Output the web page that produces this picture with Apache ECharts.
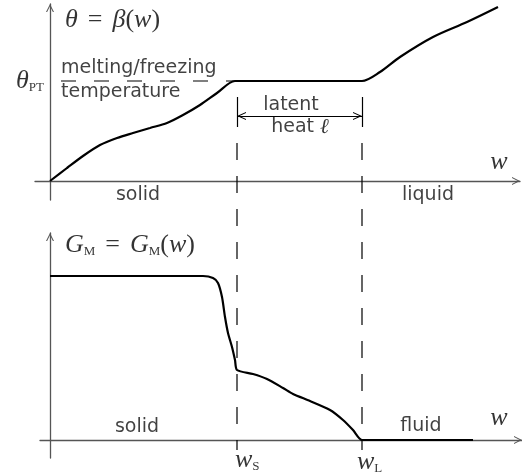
<!DOCTYPE html>
<html>
<head>
<meta charset="utf-8">
<script src="https://cdn.jsdelivr.net/npm/echarts@6/dist/echarts.min.js"></script>
<style>
  html, body { margin: 0; padding: 0; background: #fff; }
  #chart { width: 522px; height: 472px; }
</style>
</head>
<body>
<div id="chart"></div>
<script>
// w in arbitrary units, both panels share the same w scale
const wS = 46.75;
const wL = 78;
const thetaPT = 25;
const latentLevel = 16.25;

// upper panel: theta = beta(w)
const betaW = [0, 4.25, 8.25, 12.5, 16.75, 20.75, 25, 29.25, 33.25, 37.5, 41.75, 46.25, 50, 74, 78, 82.5, 87.5, 95.75, 104.25, 112];
const betaTheta = [0, 3.25, 6.25, 9, 10.75, 12, 13.25, 14.5, 16.5, 19, 22, 25, 25, 25, 25, 27.25, 31, 36, 39.75, 43.5];

// lower panel: G_M = G_M(w)
const gW = [0, 34, 38.25, 40.75, 42, 43, 43.75, 44.5, 45.5, 46.25, 46.75, 50.75, 54.25, 58.25, 60.75, 65, 70, 73.25, 75.75, 78, 82, 105.75];
const gVal = [41, 41, 41, 40.5, 39.25, 35.75, 30.75, 26.75, 23.25, 20, 17.5, 16.5, 15.25, 13, 11.5, 9.75, 7.5, 5, 2.5, 0, 0, 0];

// dashed guides (in upper panel units, they run down through the lower panel)
const guideTop = 13.5;
const guideBottom = -67.25;
const tickTop = 21;

const INK = "#000";
const AXIS = "#555";
const SANS = "DejaVu Sans";
const SERIF = "Liberation Serif";
// open arrow head, tip sits at the centre of the box
const chevron = "path://M5,-10M0,10L5,0L10,10L8.6,10L5,2.8L1.4,10Z";

const rich = {
  m: { fontFamily: SERIF, fontStyle: "italic", fontSize: 26, color: INK },
  r: { fontFamily: SERIF, fontStyle: "normal", fontSize: 26, color: INK },
  eq: { fontFamily: SERIF, fontStyle: "normal", fontSize: 26, color: INK, padding: [0, 10, 0, 10] },
  s: { fontFamily: SERIF, fontStyle: "normal", fontSize: 13, color: INK, verticalAlign: "bottom", lineHeight: 14 },
  i: { fontFamily: SERIF, fontStyle: "italic", fontSize: 21, color: INK },
};

function zip(xs, ys) {
  return xs.map((x, i) => [x, ys[i]]);
}

function notes(idx, items) {
  return {
    type: "scatter",
    xAxisIndex: idx,
    yAxisIndex: idx,
    symbolSize: 0,
    silent: true,
    clip: false,
    z: 5,
    data: items.map((n) => ({
      value: [n.x, n.y],
      label: Object.assign(
        { show: true, position: [0, 0], formatter: n.text, align: n.align || "center", verticalAlign: "middle", rich: rich },
        n.math ? { fontFamily: SERIF, fontStyle: "italic", fontSize: 26 } : {}
      ),
    })),
    label: { show: true, fontFamily: SANS, fontSize: 19, color: "#111", rich: rich },
  };
}

function axisLine() {
  return {
    show: true,
    onZero: true,
    symbol: ["none", chevron],
    symbolSize: [8, 20],
    lineStyle: { color: AXIS, width: 1.3 },
  };
}

function setChart() {
  let option = {
    animation: false,
    backgroundColor: "#fff",
    grid: [
      { left: 35, right: 2, top: 4, bottom: 272, outerBoundsMode: "none", containLabel: false },
      { left: 40, right: 0, top: 233, bottom: 14, outerBoundsMode: "none", containLabel: false },
    ],
    xAxis: [
      {
        type: "value", gridIndex: 0, min: -3.75, max: 117.5,
        axisLine: axisLine(), axisTick: { show: false }, axisLabel: { show: false }, splitLine: { show: false },
      },
      {
        type: "value", gridIndex: 1, min: -2.5, max: 118,
        axisLine: axisLine(), axisTick: { show: false }, axisLabel: { show: false }, splitLine: { show: false },
      },
    ],
    yAxis: [
      {
        type: "value", gridIndex: 0, min: -4.75, max: 44.25,
        axisLine: axisLine(), axisTick: { show: false }, axisLabel: { show: false }, splitLine: { show: false },
      },
      {
        type: "value", gridIndex: 1, min: -4.5, max: 51.75,
        axisLine: axisLine(), axisTick: { show: false }, axisLabel: { show: false }, splitLine: { show: false },
      },
    ],
    series: [
      {
        name: "beta",
        type: "line",
        xAxisIndex: 0, yAxisIndex: 0,
        symbol: "none",
        smooth: 0.3,
        data: zip(betaW, betaTheta),
        lineStyle: { color: "#000", width: 2.2 },
        z: 4,
      },
      {
        name: "thetaPT",
        type: "line",
        xAxisIndex: 0, yAxisIndex: 0,
        symbol: "none",
        data: [[0, thetaPT], [betaW[11], thetaPT]],
        lineStyle: { color: "#000", width: 1.2, type: [15, 18], dashOffset: 22 },
      },
      {
        name: "guide wS",
        type: "line",
        xAxisIndex: 0, yAxisIndex: 0,
        symbol: "none",
        clip: false,
        data: [[wS, guideTop], [wS, guideBottom]],
        lineStyle: { color: "#000", width: 1.2, type: [17, 16], dashOffset: 17 },
      },
      {
        name: "guide wL",
        type: "line",
        xAxisIndex: 0, yAxisIndex: 0,
        symbol: "none",
        clip: false,
        data: [[wL, guideTop], [wL, guideBottom]],
        lineStyle: { color: "#000", width: 1.2, type: [17, 16], dashOffset: 17 },
      },
      {
        name: "latent",
        type: "line",
        xAxisIndex: 0, yAxisIndex: 0,
        symbol: "none",
        data: [],
        markLine: {
          silent: true,
          animation: false,
          symbol: [chevron, chevron],
          symbolSize: [8, 18],
          label: { show: false },
          lineStyle: { color: "#000", width: 1.2, type: "solid" },
          data: [
            [{ coord: [wS, latentLevel] }, { coord: [wL, latentLevel] }],
            [{ coord: [wS, tickTop], symbol: "none" }, { coord: [wS, guideTop], symbol: "none" }],
            [{ coord: [wL, tickTop], symbol: "none" }, { coord: [wL, guideTop], symbol: "none" }],
          ],
        },
      },
      {
        name: "G",
        type: "line",
        xAxisIndex: 1, yAxisIndex: 1,
        symbol: "none",
        smooth: 0.25,
        data: zip(gW, gVal),
        lineStyle: { color: "#000", width: 2.2 },
        z: 4,
      },
      notes(0, [
        { x: 3.75, y: 40.25, text: "{m|θ}{eq|=}{m|β}{r|(}{m|w}{r|)}", align: "left", math: true },
        { x: -1.5, y: thetaPT, text: "{m|θ}{s|PT}", align: "right", math: true },
        { x: 2.75, y: 28.25, text: "melting/freezing", align: "left" },
        { x: 2.75, y: 22.25, text: "temperature", align: "left" },
        { x: 60.25, y: 19, text: "latent" },
        { x: 62.5, y: 13.5, text: "heat {i|ℓ}" },
        { x: 22, y: -3.5, text: "solid" },
        { x: 94.5, y: -3.5, text: "liquid" },
        { x: 112.25, y: 4.75, text: "{m|w}", math: true },
      ]),
      notes(1, [
        { x: 3.75, y: 48.75, text: "{m|G}{s|M}{eq|=}{m|G}{s|M}{r|(}{m|w}{r|)}", align: "left", math: true },
        { x: 21.75, y: 3.25, text: "solid" },
        { x: 92.75, y: 3.5, text: "fluid" },
        { x: 112.25, y: 5.5, text: "{m|w}", math: true },
        { x: wS - 0.5, y: -5, text: "{m|w}{s|S}", align: "left", math: true },
        { x: wL - 1.25, y: -5.5, text: "{m|w}{s|L}", align: "left", math: true },
      ]),
    ],
  };
  let myChart = echarts.init(document.getElementById("chart"), null, { renderer: "canvas" });
  myChart.setOption(option);
}
setChart();
</script>
</body>
</html>
